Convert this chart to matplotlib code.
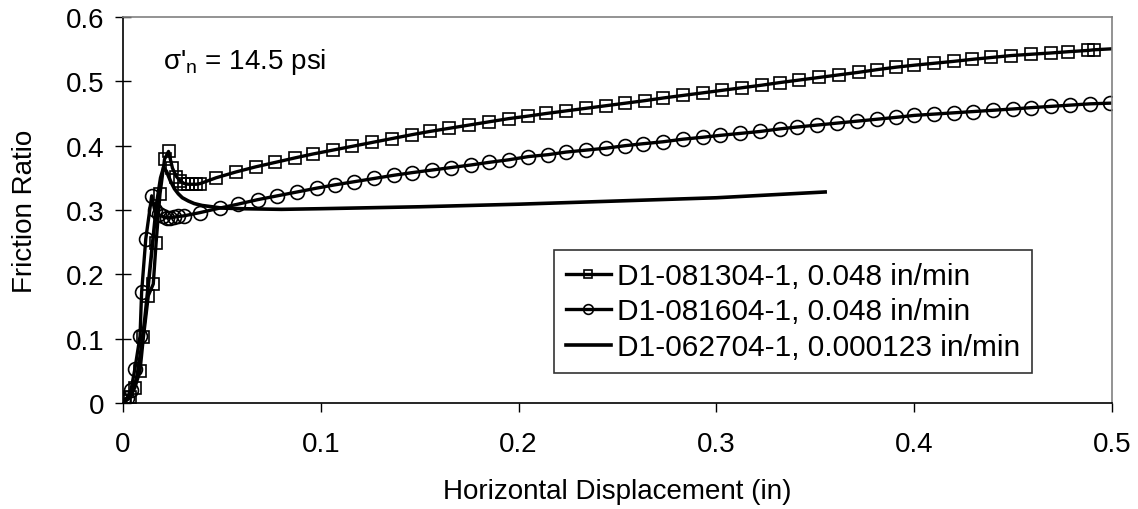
import matplotlib
matplotlib.use("Agg")
import matplotlib.pyplot as plt

plt.rcParams["font.family"] = ["Liberation Sans", "DejaVu Sans"]
plt.rcParams["mathtext.fontset"] = "custom"
plt.rcParams["mathtext.rm"] = "Liberation Sans"
plt.rcParams["mathtext.it"] = "Liberation Sans:italic"

# D1-081304-1, 0.048 in/min (square markers)
x_sq = [0.001, 0.0035, 0.006, 0.0086, 0.0103, 0.0128, 0.0153, 0.0167, 0.0187,
        0.021, 0.023, 0.025, 0.027, 0.029, 0.031, 0.033, 0.035, 0.037, 0.039,
        0.047, 0.057, 0.067, 0.077, 0.087, 0.096, 0.106, 0.116, 0.126, 0.136,
        0.146, 0.155, 0.165, 0.175, 0.185, 0.195, 0.205, 0.214, 0.224, 0.234,
        0.244, 0.254, 0.264, 0.273, 0.283, 0.293, 0.303, 0.313, 0.323, 0.332,
        0.342, 0.352, 0.362, 0.372, 0.381, 0.391, 0.400, 0.410, 0.420, 0.429,
        0.439, 0.449, 0.459, 0.469, 0.478, 0.488, 0.491, 0.503]
y_sq = [0.003, 0.009, 0.024, 0.050, 0.102, 0.167, 0.185, 0.248, 0.325,
        0.379, 0.391, 0.365, 0.352, 0.345, 0.341, 0.340, 0.340, 0.340, 0.341,
        0.350, 0.359, 0.367, 0.374, 0.381, 0.387, 0.393, 0.399, 0.405, 0.411,
        0.417, 0.422, 0.427, 0.432, 0.437, 0.442, 0.446, 0.450, 0.454, 0.458,
        0.462, 0.466, 0.470, 0.474, 0.478, 0.482, 0.486, 0.490, 0.494, 0.498,
        0.502, 0.506, 0.510, 0.514, 0.518, 0.522, 0.525, 0.528, 0.531, 0.534,
        0.537, 0.540, 0.542, 0.544, 0.546, 0.548, 0.549, 0.551]

# D1-081604-1, 0.048 in/min (circle markers)
x_ci = [0.000, 0.002, 0.004, 0.006, 0.0086, 0.0094, 0.0115, 0.0145, 0.016,
        0.018, 0.020, 0.022, 0.024, 0.026, 0.028, 0.031, 0.039, 0.049, 0.058,
        0.068, 0.078, 0.088, 0.098, 0.107, 0.117, 0.127, 0.137, 0.146, 0.156,
        0.166, 0.176, 0.185, 0.195, 0.205, 0.215, 0.224, 0.234, 0.244, 0.254,
        0.263, 0.273, 0.283, 0.293, 0.302, 0.312, 0.322, 0.332, 0.341, 0.351,
        0.361, 0.371, 0.381, 0.391, 0.400, 0.410, 0.420, 0.430, 0.440, 0.450,
        0.459, 0.469, 0.479, 0.489, 0.499]
y_ci = [0.004, 0.008, 0.020, 0.053, 0.104, 0.172, 0.255, 0.322, 0.300,
        0.293, 0.290, 0.288, 0.288, 0.289, 0.290, 0.291, 0.296, 0.303, 0.309,
        0.316, 0.322, 0.328, 0.334, 0.339, 0.344, 0.349, 0.354, 0.358, 0.362,
        0.366, 0.370, 0.374, 0.378, 0.383, 0.386, 0.390, 0.393, 0.396, 0.400,
        0.403, 0.406, 0.410, 0.413, 0.416, 0.419, 0.422, 0.426, 0.429, 0.432,
        0.435, 0.438, 0.441, 0.444, 0.447, 0.449, 0.451, 0.453, 0.455, 0.457,
        0.459, 0.461, 0.463, 0.465, 0.466]

# D1-062704-1, 0.000123 in/min (line only)
x_ln = [0.000, 0.004, 0.007, 0.009, 0.011, 0.013, 0.015, 0.017, 0.019, 0.0205,
        0.022, 0.024, 0.026, 0.028, 0.030, 0.033, 0.036, 0.040, 0.045, 0.050,
        0.060, 0.080, 0.100, 0.150, 0.200, 0.250, 0.300, 0.355]
y_ln = [0.000, 0.010, 0.040, 0.080, 0.130, 0.190, 0.250, 0.310, 0.350, 0.366,
        0.360, 0.345, 0.333, 0.325, 0.319, 0.314, 0.310, 0.307, 0.305, 0.303,
        0.302, 0.301, 0.302, 0.305, 0.309, 0.314, 0.319, 0.328]

labels = ["D1-081304-1, 0.048 in/min",
          "D1-081604-1, 0.048 in/min",
          "D1-062704-1, 0.000123 in/min"]

fig = plt.figure(figsize=(11.38, 5.10), dpi=100)
ax = fig.add_axes([0.1081, 0.2078, 0.869, 0.757])

ax.plot(x_sq, y_sq, color="black", lw=2.4, marker="s", ms=8.5, mfc="none",
        mec="black", mew=1.2, markevery=list(range(len(x_sq) - 1)),
        label=labels[0])
ax.plot(x_ci, y_ci, color="black", lw=2.4, marker="o", ms=10, mfc="none",
        mec="black", mew=1.2, label=labels[1])
ax.plot(x_ln, y_ln, color="black", lw=2.6, label=labels[2])

ax.set_xlim(0, 0.5)
ax.set_ylim(0, 0.6)
ax.set_xticks([0, 0.1, 0.2, 0.3, 0.4, 0.5])
ax.set_xticklabels(["0", "0.1", "0.2", "0.3", "0.4", "0.5"])
ax.set_yticks([0, 0.1, 0.2, 0.3, 0.4, 0.5, 0.6])
ax.set_yticklabels(["0", "0.1", "0.2", "0.3", "0.4", "0.5", "0.6"])
ax.tick_params(axis="x", direction="out", length=6.5, width=1, pad=14,
               labelsize=20)
ax.tick_params(axis="y", direction="inout", length=11, width=1, pad=8,
               labelsize=20)

for side in ("left", "bottom"):
    ax.spines[side].set_color("black")
    ax.spines[side].set_linewidth(1.2)
for side in ("top", "right"):
    ax.spines[side].set_color("#808080")
    ax.spines[side].set_linewidth(1.2)

ax.set_xlabel("Horizontal Displacement (in)", fontsize=20, labelpad=15)
ax.set_ylabel("Friction Ratio", fontsize=20, labelpad=20)

ax.text(0.0202, 0.532, "σ'$_\\mathrm{n}$ = 14.5 psi", fontsize=20,
        ha="left", va="center")

leg = ax.legend(loc="lower right", bbox_to_anchor=(0.919, 0.078),
                borderaxespad=0, fontsize=21.5, frameon=True, fancybox=False,
                edgecolor="black", handlelength=1.5, handletextpad=0.2,
                labelspacing=0.25, borderpad=0.4, markerscale=0.7)
leg.get_frame().set_linewidth(1.2)

fig.savefig("out.png", dpi=100)
